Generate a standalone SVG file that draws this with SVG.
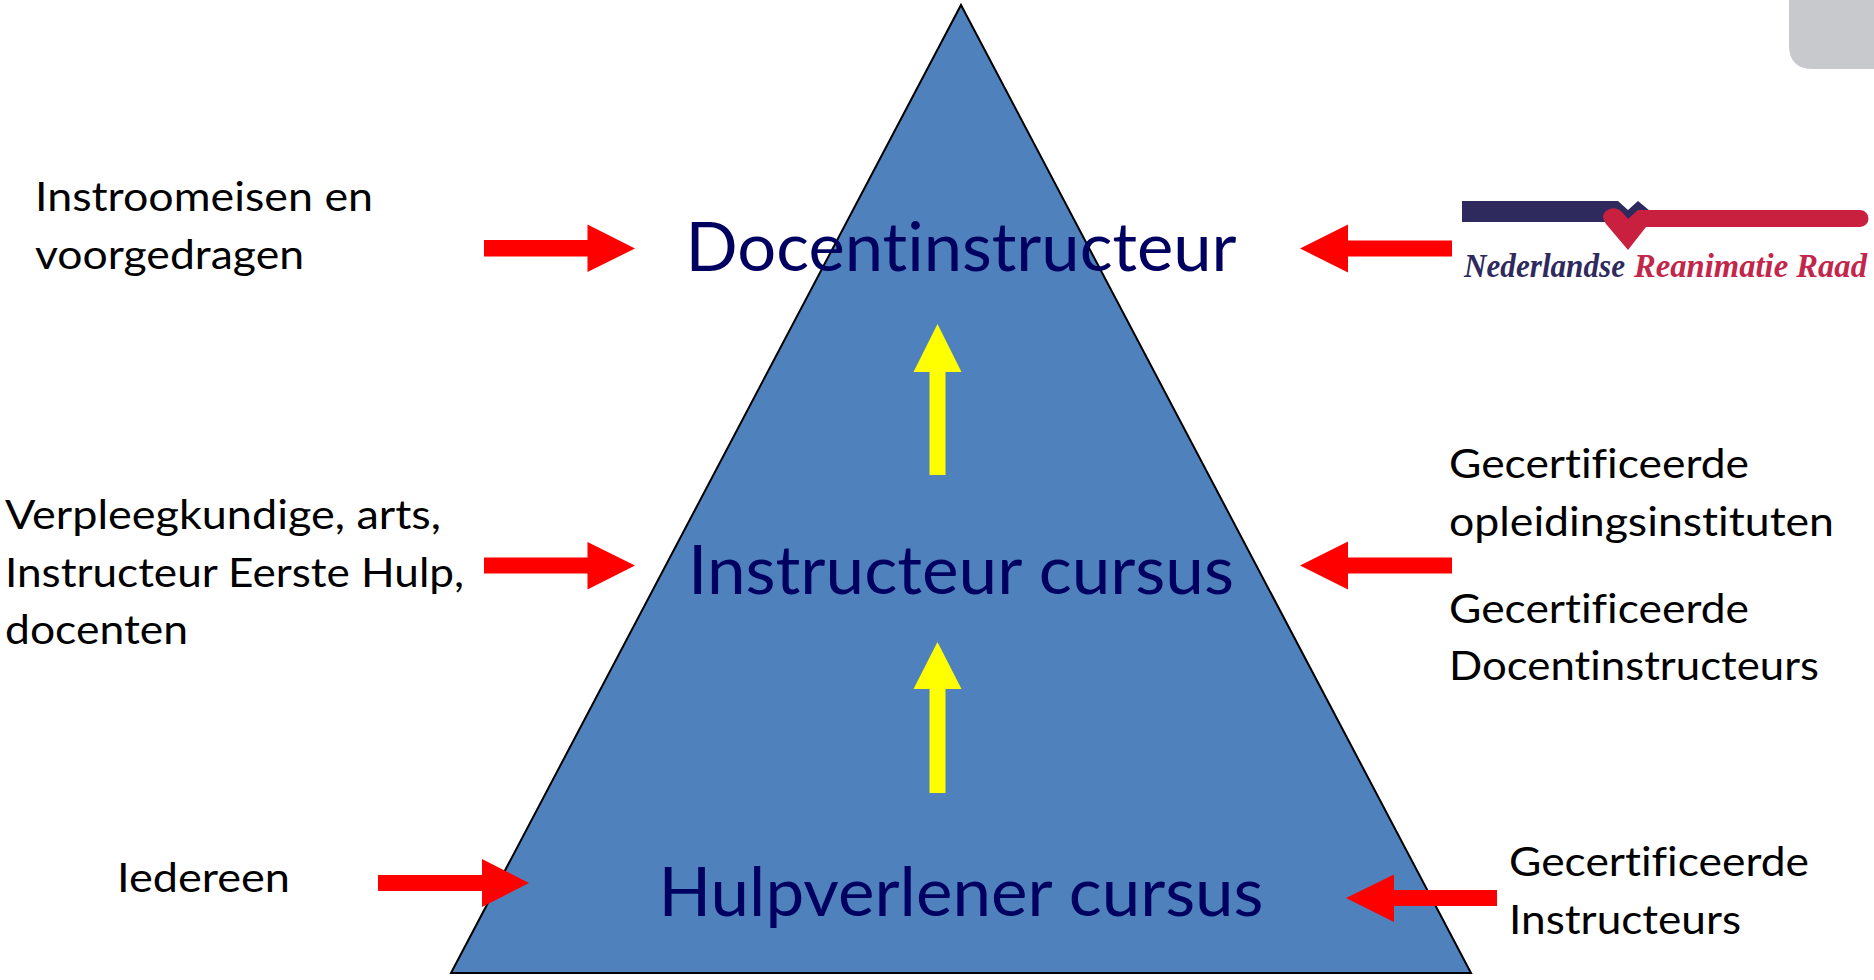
<svg xmlns="http://www.w3.org/2000/svg" width="1874" height="980" viewBox="0 0 1874 980">
<style>
.t{font-family:Lato,"Open Sans",sans-serif;font-size:41.500px;fill:#000;font-variant-ligatures:none}
.h{font-family:Lato,"Open Sans",sans-serif;font-size:68px;fill:#000060;text-anchor:middle;font-variant-ligatures:none}
.r{fill:#ff0000}.y{fill:#ffff00}
.l{font-family:"Liberation Serif",serif;font-style:italic;font-weight:bold;font-size:33px}
</style>
<rect width="1874" height="980" fill="#fff"/>
<path d="M1789 0V45Q1789 69 1813 69H1874V0Z" fill="#c8c9cc"/>
<g id="pyramid"><path d="M961 5L1471 973H451Z" fill="#4f81bd" stroke="#000" stroke-width="2"/></g>
<g id="level-top"><text class="h" x="961" y="271" textLength="551" lengthAdjust="spacingAndGlyphs">Docentinstructeur</text></g>
<g id="level-mid"><text class="h" x="961" y="594" textLength="546" lengthAdjust="spacingAndGlyphs">Instructeur cursus</text></g>
<g id="level-bottom"><text class="h" x="961" y="916" textLength="605" lengthAdjust="spacingAndGlyphs">Hulpverlener cursus</text></g>
<g id="connectors">
<path class="r" d="M484 240H587.500V224.500L635 248.500L587.500 272V256.500H484Z"/>
<path class="r" d="M484 557.500H587.500V542L635 565.500L587.500 589.500V573.500H484Z"/>
<path class="r" d="M378 875H482V859L529 883L482 907V891H378Z"/>
<path class="r" d="M1452 240.500H1348V224.500L1300 248.500L1348 272.500V256.500H1452Z"/>
<path class="r" d="M1452 557.500H1348V541.500L1300 565.500L1348 589.500V573.500H1452Z"/>
<path class="r" d="M1497 890H1394V874.500L1346 898L1394 922V906H1497Z"/>
<path class="y" d="M929.500 475V372H913.500L937.500 324L961.500 372H945.500V475Z"/>
<path class="y" d="M929.500 793V689H913.500L937.500 642L961.500 689H945.500V793Z"/>
</g>
<g id="note-top-left"><text class="t" x="35" y="211" textLength="338" lengthAdjust="spacingAndGlyphs">Instroomeisen en</text><text class="t" x="35" y="269" textLength="269" lengthAdjust="spacingAndGlyphs">voorgedragen</text></g>
<g id="note-mid-left"><text class="t" x="5" y="529" textLength="436" lengthAdjust="spacingAndGlyphs">Verpleegkundige, arts,</text><text class="t" x="5" y="587" textLength="459" lengthAdjust="spacingAndGlyphs">Instructeur Eerste Hulp,</text><text class="t" x="5" y="644" textLength="183" lengthAdjust="spacingAndGlyphs">docenten</text></g>
<g id="note-bottom-left"><text class="t" x="117" y="892" textLength="173" lengthAdjust="spacingAndGlyphs">Iedereen</text></g>
<g id="note-mid-right"><text class="t" x="1449" y="478" textLength="300" lengthAdjust="spacingAndGlyphs">Gecertificeerde</text><text class="t" x="1449" y="536" textLength="385" lengthAdjust="spacingAndGlyphs">opleidingsinstituten</text><text class="t" x="1449" y="623" textLength="300" lengthAdjust="spacingAndGlyphs">Gecertificeerde</text><text class="t" x="1449" y="680" textLength="370" lengthAdjust="spacingAndGlyphs">Docentinstructeurs</text></g>
<g id="note-bottom-right"><text class="t" x="1509" y="876" textLength="300" lengthAdjust="spacingAndGlyphs">Gecertificeerde</text><text class="t" x="1509" y="934" textLength="232" lengthAdjust="spacingAndGlyphs">Instructeurs</text></g>
<g id="logo">
<path d="M1462 201H1618L1628 210L1638 201L1650 211L1632 222H1462Z" fill="#2f2a5e"/>
<path d="M1628 250L1606 224Q1600 216 1606 211Q1614 205 1622 212L1628 219L1638 210H1860A8.500 8.500 0 0 1 1860 227H1646Z" fill="#c9203f"/>
<text class="l" x="1464" y="277" fill="#2f2a5e" textLength="161" lengthAdjust="spacingAndGlyphs">Nederlandse</text>
<text class="l" x="1634" y="277" fill="#c2264a" textLength="233" lengthAdjust="spacingAndGlyphs">Reanimatie Raad</text>
</g>
</svg>
